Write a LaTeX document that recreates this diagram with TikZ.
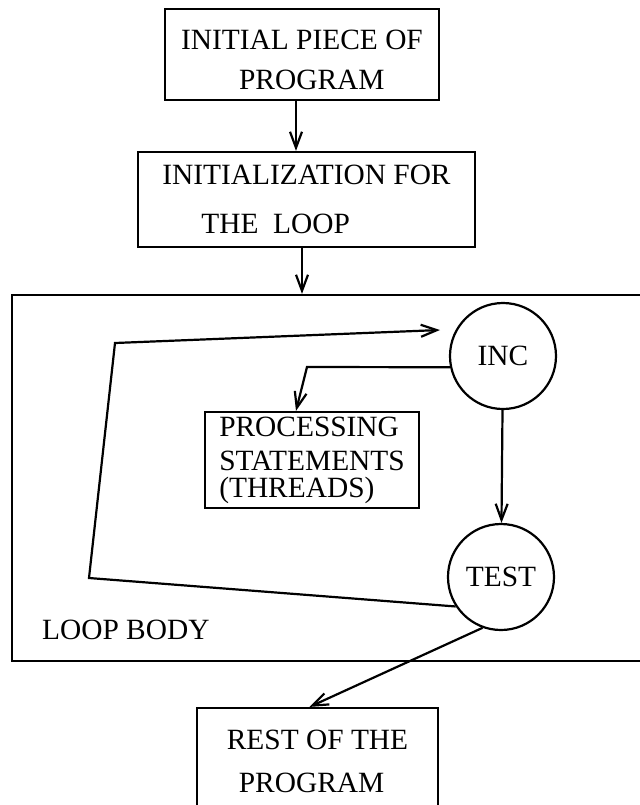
\documentclass[tikz,border=0pt]{standalone}
\usepackage{fontspec}
\setmainfont{Liberation Serif}
\usetikzlibrary{positioning,arrows.meta}

\begin{document}
\begin{tikzpicture}[
			x=0.5pt, y=-0.5pt,
			line width=1.1pt,
			>={Straight Barb[length=8pt,width=6pt]},
			font=\fontsize{14.7}{17.6}\selectfont,
			block/.style = {draw, rectangle, align=left, inner sep=0pt},
			state/.style = {draw, circle, minimum size=53pt, inner sep=0pt}
		]
		\useasboundingbox (0,0) rectangle (639,805);
		% Before the loop.
		\node[block, minimum width=137pt, minimum height=45.5pt] (init) at (302,54.5)
			{\rule{0pt}{15pt}INITIAL PIECE OF\\[2.4pt]\hspace*{29pt}PROGRAM};
		\node[block, minimum width=168.5pt, minimum height=47.5pt] (initloop) at (306.5,199.5)
			{INITIALIZATION FOR\\[6.9pt]\hspace*{19.5pt}THE\ \ LOOP};
		% The loop body.
		\node[draw, rectangle, minimum width=319pt, minimum height=183pt] (body) at (331,478) {};
		\node[anchor=west, inner sep=0pt] (bodylabel) at (41,630) {LOOP BODY};
		\node[state] (inc) at (503,356) {INC};
		\node[state] (test) at (501,577) {TEST};
		\node[block, minimum width=107pt, minimum height=48pt] (proc) at (312,460)
			{PROCESSING\\[-0.6pt]STATEMENTS\\[-4.1pt](THREADS)};
		\coordinate (incin) at (440,330);
		% After the loop.
		\node[block, minimum width=120.5pt, minimum height=53.5pt] (rest) at (317.5,761.5)
			{REST OF THE\\[3.9pt]\hspace*{6pt}PROGRAM};

		\draw[->] ([xshift=-3pt]init.south) to ([xshift=-3pt]init.south |- initloop.north);
		\draw[->] ([xshift=-2.25pt]initloop.south) to ([xshift=-2.25pt]initloop.south |- body.north);
		\draw[->] (inc.192) -- (307,367) -- ([xshift=-8pt]proc.north);
		\draw[->] (inc) to (test);
		\draw[->] (test.213) -- (89,578) -- (115,343) -- (incin);
		\draw[->] (test.250) to ([xshift=-4pt]rest.north);
	\end{tikzpicture}
\end{document}
